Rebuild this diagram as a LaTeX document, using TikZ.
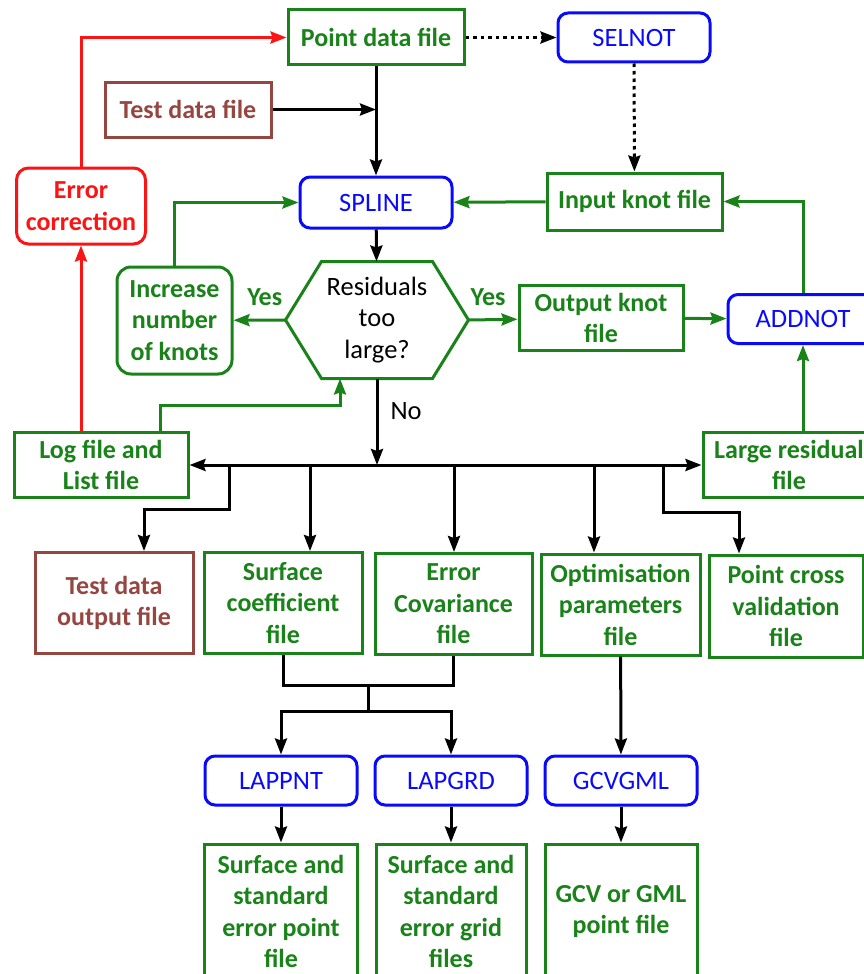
\documentclass[tikz,border=0pt]{standalone}
\usepackage{fontspec}
\setmainfont{Carlito}
\usetikzlibrary{positioning, arrows.meta}
\definecolor{flowgreen}{RGB}{25,130,25}
\definecolor{flowblue}{RGB}{10,10,250}
\definecolor{flowred}{RGB}{250,20,20}
\definecolor{flowbrown}{RGB}{150,70,65}
\tikzset{
>={Stealth[length=16pt, width=12pt, inset=2pt]}, % filled heads like the chart
node distance=170pt, % spacing of the lower program row
every node/.style={font=\bfseries\fontsize{26}{31.5}\selectfont, align=center, inner sep=0pt}, % one text size
plain/.style={font=\fontsize{26.5}{31.5}\selectfont}, % lighter text
filebox/.style={draw=flowgreen, text=flowgreen, minimum width=158pt, minimum height=101pt}, % data files
progbox/.style={plain, draw=flowblue, text=flowblue, rounded corners=10pt, minimum width=152pt, minimum height=49pt}, % programs
testbox/.style={filebox, draw=flowbrown, text=flowbrown}, % test data
fixbox/.style={draw=flowred, text=flowred, rounded corners=12pt}, % manual step
dotline/.style={dash pattern=on 3.5pt off 4pt}, % the SELNOT route
}

\begin{document}
\begin{tikzpicture}[x=1pt, y=-1pt, ->, line width=3pt]
\useasboundingbox (0,0) rectangle (864,974);
\clip (0,0) rectangle (864,974);
\node[filebox, minimum width=176pt, minimum height=55pt] (pdata) at (376,37.5) {Point data file};
\node[progbox] (selnot) at (634,37.5) {SELNOT};
\node[testbox, minimum width=166pt, minimum height=55pt] (tdata) at (188,109.5) {Test data file};
\node[progbox, minimum height=51pt] (spline) at (376,202.5) {SPLINE};
\node[filebox, minimum width=175pt, minimum height=57pt] (inknot) at (634.5,201.5) {Input knot file};
\node[fixbox, minimum width=129pt, minimum height=76pt] (errcor) at (81,206) {Error\\correction};
\node[filebox, rounded corners=14pt, minimum width=115pt, minimum height=107pt] (incr) at (174.5,320.5) {Increase\\number\\of knots};
\node[plain, minimum width=180pt, minimum height=114pt] (resid) at (377,320) {Residuals\\too\\large?};
\node[filebox, minimum width=164pt, minimum height=65pt] (outknot) at (601,318) {Output knot\\file};
\node[progbox, minimum width=150pt] (addnot) at (803,319) {ADDNOT};
\node[filebox, minimum width=174pt, minimum height=65pt] (logf) at (101,465) {Log file and\\List file};
\node[filebox, minimum width=172pt, minimum height=65pt] (large) at (789,465) {Large residual\\file};
\node[testbox] (tdout) at (114,603) {Test data\\output file};
\node[filebox] (surfc) at (283,603) {Surface\\coefficient\\file};
\node[filebox, minimum width=157pt] (errcov) at (453.5,604) {Error\\Covariance\\file};
\node[filebox, minimum width=159pt] (optim) at (620.5,604.5) {Optimisation\\parameters\\file};
\node[filebox, minimum width=154pt, minimum height=102pt] (ptcross) at (786,606) {Point cross\\validation\\file};
\node[progbox] (lappnt) at (281,780.5) {LAPPNT};
\node[progbox, right of=lappnt] (lapgrd) {LAPGRD};
\node[progbox, right of=lapgrd] (gcvgml) {GCVGML};
\node[filebox, minimum width=153pt, minimum height=135pt, below of=lappnt, node distance=131pt] (surfpt) {Surface and\\standard\\error point\\file};
\node[filebox, minimum width=150pt, minimum height=135pt, below of=lapgrd, node distance=131pt] (surfgr) {Surface and\\standard\\error grid\\files};
\node[filebox, minimum width=152pt, minimum height=135pt, below of=gcvgml, node distance=131pt] (gcvpt) {GCV or GML\\point file};
\draw[flowgreen, -] (resid.west) -- ([xshift=36pt]resid.north west) -- ([xshift=-36pt]resid.north east) -- (resid.east)
  -- ([xshift=-36pt]resid.south east) -- ([xshift=36pt]resid.south west) -- cycle;
\coordinate (bus) at (0,465);
\coordinate (b1) at (229,465);
\coordinate (b2) at (310,465);
\coordinate (b3) at (454,465);
\coordinate (b4) at (594,465);
\coordinate (b5) at (663,465);
\coordinate (logturn) at (340,405);
\coordinate (join) at (368,685);
\coordinate (split) at (368,711);
\draw[dotline] (pdata) -- (selnot);
\draw[dotline] (selnot) -- (inknot);
\draw (pdata) -- (spline);
\draw (tdata) -- (tdata -| pdata);
\draw[flowgreen] (inknot) -- (spline);
\draw[flowgreen] (addnot.north) |- (inknot);
\draw[flowgreen] (incr) |- (spline);
\draw[flowred] (errcor) |- (pdata);
\draw[flowred] (errcor.south |- logf.north) -- (errcor);
\draw (spline) -- (resid);
\draw[flowgreen] (resid.west) -- (incr) node[pos=0.4, above=13pt] {Yes};
\draw[flowgreen] (resid.east) -- (outknot) node[pos=0.4, above=13pt] {Yes};
\draw[flowgreen] (outknot) -- (addnot);
\draw[flowgreen] (large.north -| addnot) -- (addnot);
\draw[flowgreen] ([xshift=59pt]logf.north) |- (logturn) -- ([xshift=-37pt]resid.south);
\draw (resid.south) -- (resid.south |- bus) node[plain, pos=0.38, right=12pt] {No};
\draw[<->] (logf) -- (large);
\draw (b1) -- ++(0,44) -| ([xshift=30pt]tdout.north);
\draw (b2) -- (b2 |- surfc.north);
\draw (b3) -- (b3 |- errcov.north);
\draw (b4) -- (b4 |- optim.north);
\draw (b5) -- ++(0,47) -| ([xshift=-47pt]ptcross.north);
\draw[-] (surfc) |- (join) -| (errcov);
\draw[-] (join) -- (split);
\draw (split) -| (lappnt);
\draw (split) -| (lapgrd);
\draw (optim) -- (gcvgml);
\draw (lappnt) -- (surfpt);
\draw (lapgrd) -- (surfgr);
\draw (gcvgml) -- (gcvpt);
\end{tikzpicture}
\end{document}
